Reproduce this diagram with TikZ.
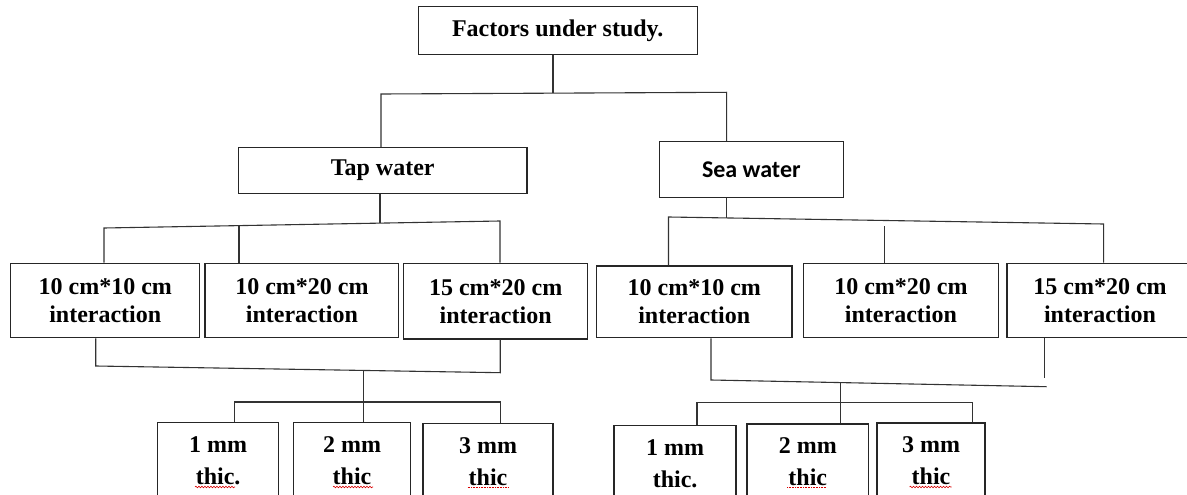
\documentclass[tikz,border=0pt]{standalone}
\usepackage{fontspec}
\setmainfont{Liberation Serif}
\newfontfamily\calib{Carlito}
\usetikzlibrary{decorations.pathmorphing}

\begin{document}
\begin{tikzpicture}[x=1pt, y=-1pt,
  box/.style={draw=black!85, line width=1.3pt, align=center, font=\fontsize{24}{28}\selectfont\bfseries},
  thicbox/.style={box, anchor=north, minimum height=76, font=\fontsize{24}{32}\selectfont\bfseries},
  link/.style={draw=black!80, line width=1.1pt},
  spell/.style={red!85!black, line width=0.6pt, decorate, decoration={snake, amplitude=0.8pt, segment length=3pt}}]
\useasboundingbox (0,0) rectangle (1187,495);

\node[box, minimum width=279, minimum height=48] (top) at (557.7,30.8) {Factors under study.};
\node[box, minimum width=288.6, minimum height=45.6] (tap) at (382.7,170.5) {Tap water};
\node[box, minimum width=184, minimum height=56, font=\calib\fontsize{24}{28}\selectfont\bfseries] (sea) at (751.3,169.7) {Sea water};

% tap water sizes
\node[box, minimum width=189, minimum height=74.4] (i1) at (105.25,300.5) {10 cm*10 cm\\interaction};
\node[box, minimum width=193.8, minimum height=74.4] (i2) at (301.9,300.5) {10 cm*20 cm\\interaction};
\node[box, minimum width=183.7, minimum height=75.7] (i3) at (495.65,301.2) {15 cm*20 cm\\interaction};
% sea water sizes
\node[box, minimum width=195.5, minimum height=71.7] (s1) at (694.25,301.85) {10 cm*10 cm\\interaction};
\node[box, minimum width=195.5, minimum height=74.4] (s2) at (900.95,300.5) {10 cm*20 cm\\interaction};
\node[box, minimum width=186, minimum height=74.4] (s3) at (1100,300.5) {15 cm*20 cm\\interaction};

% thickness
\node[thicbox, minimum width=121] (t1) at (218.15,421.7) {1 mm\\thic.};
\node[thicbox, minimum width=117] (t2) at (352,421.7) {2 mm\\thic};
\node[thicbox, minimum width=130] (t3) at (488,423) {3 mm\\thic};
\node[thicbox, minimum width=122] (u1) at (675.1,425) {1 mm\\thic.};
\node[thicbox, minimum width=121.7] (u2) at (807.75,423.3) {2 mm\\thic};
\node[thicbox, minimum width=108] (u3) at (931,422.3) {3 mm\\thic};

\coordinate (hL) at (381,94); \coordinate (hM) at (553,93.2); \coordinate (hR) at (726.6,92.3);
\draw[link] (top.south -| hM) -- (hM);
\draw[link] (tap.north -| hL) -- (hL) -- (hR) -- (sea.north -| hR);

\coordinate (tL) at (104,228); \coordinate (tB) at (239,225.6); \coordinate (tM) at (380,223.1); \coordinate (tR) at (500,221);
\draw[link] (tap.south -| tM) -- (tM);
\draw[link] (i1.north -| tL) -- (tL) -- (tR) -- (i3.north -| tR);
\draw[link] (tB) -- (i2.north -| tB);

\coordinate (sL) at (668.5,217); \coordinate (sM) at (726.6,217.9); \coordinate (sB) at (884.7,226); \coordinate (sR) at (1103.6,224);
\draw[link] (sea.south -| sM) -- (sM);
\draw[link] (s1.north -| sL) -- (sL) -- (sR) -- (s3.north -| sR);
\draw[link] (sB) -- (s2.north -| sB);

\coordinate (mL) at (95.7,366); \coordinate (mM) at (363.6,370.4); \coordinate (mR) at (500.2,372.7);
\draw[link] (i1.south -| mL) -- (mL) -- (mR) -- (i3.south -| mR);
\draw[link] (mM) -- (t2.north -| mM);
\coordinate (bL) at (234.6,402); \coordinate (bR) at (500.2,402);
\draw[link] (t1.north -| bL) -- (bL) -- (bR) -- (t3.north -| bR);

\coordinate (nL) at (711,380); \coordinate (nM) at (840.7,382.6); \coordinate (nR) at (1046.6,386.7); \coordinate (nE) at (1044.6,378);
\draw[link] (s1.south -| nL) -- (nL) -- (nR);
\draw[link] (s3.south -| nE) -- (nE);
\draw[link] (nM) -- (u2.north -| nM);
\coordinate (cL) at (697,402.3); \coordinate (cR) at (972.7,402.3);
\draw[link] (u1.north -| cL) -- (cL) -- (cR) -- (u3.north -| cR);

% spell check marks
\draw[spell] (195,487) -- (235,487);
\draw[spell] (333,487) -- (373,487);
\draw[spell] (909.6,487) -- (951.7,487);
\draw[red!85!black, line width=0.6pt, densely dotted] (467.7,487) -- (508,487);
\draw[red!85!black, line width=0.6pt, densely dotted] (787,487) -- (826.5,487);
\end{tikzpicture}
\end{document}
